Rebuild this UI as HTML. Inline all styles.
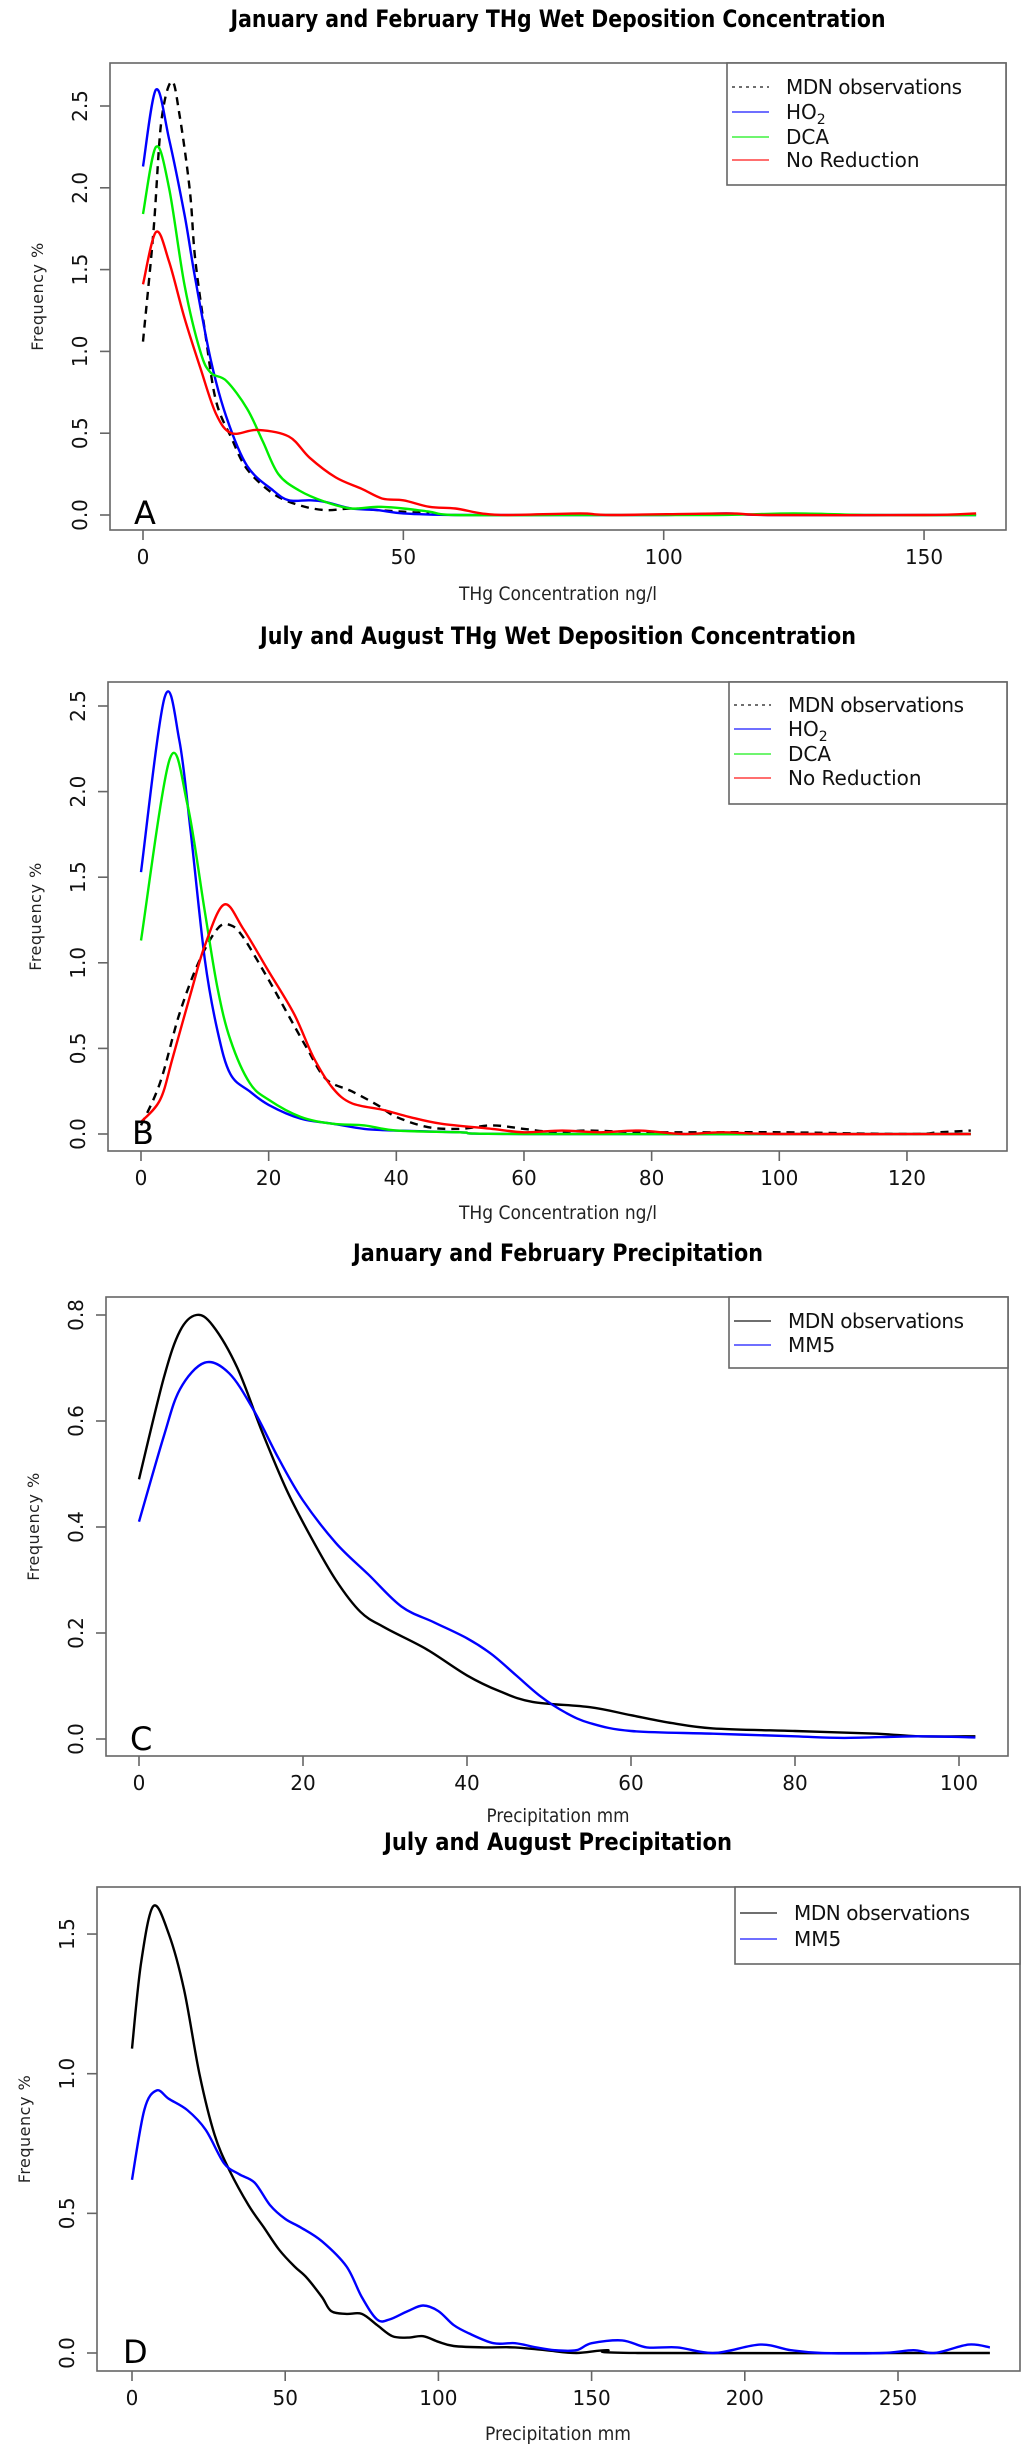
<!DOCTYPE html>
<html><head><meta charset="utf-8"><style>
html,body{margin:0;padding:0;background:#fff;}
svg{display:block;font-family:"DejaVu Sans","Liberation Sans",sans-serif;}
</style></head><body>
<svg id="fig" width="1024" height="2456" viewBox="0 0 1024 2456" xmlns="http://www.w3.org/2000/svg"></svg>
<script>
// ---- Panel A data (Jan/Feb THg) ----
const aMdnX=[0,2,3.5,5.5,7,9,10,12,14,17,20,25,30,35,40,45,50,55];
const aMdnY=[1.06,1.73,2.4,2.65,2.45,1.98,1.57,1.1,0.7,0.47,0.28,0.13,0.06,0.03,0.04,0.03,0.02,0.01];
const aHo2X=[0,2.5,5,8,10,13,16,20,25,28,32,35,40,45,50,60,80,100,112,120,160];
const aHo2Y=[2.13,2.6,2.3,1.83,1.45,0.95,0.6,0.3,0.15,0.09,0.09,0.08,0.04,0.03,0.01,0,0,0,0.01,0,0];
const aDcaX=[0,2.5,5,8,11,13,16,20,23,26,30,35,40,45,50,55,60,80,110,125,140,160];
const aDcaY=[1.84,2.25,2.0,1.4,1.0,0.87,0.82,0.65,0.45,0.25,0.15,0.08,0.04,0.05,0.04,0.02,0,0,0,0.01,0,0];
const aNoRX=[0,2.5,5,8,11,14,17,22,28,32,37,42,46,50,55,60,65,70,84,90,112,120,150,160];
const aNoRY=[1.41,1.73,1.55,1.2,0.9,0.62,0.5,0.52,0.48,0.35,0.23,0.16,0.1,0.09,0.05,0.04,0.01,0,0.01,0,0.01,0,0,0.01];
const aXTicks=[0,50,100,150];
const aYTicks=["0.0","0.5","1.0","1.5","2.0","2.5"];

// ---- Panel B data (Jul/Aug THg) ----
const bMdnX=[0,3,6,9,12,14,16,20,23,26,29,33,37,40,45,50,55,60,65,70,80,100,120,125,130];
const bMdnY=[0.05,0.3,0.7,1.0,1.2,1.22,1.15,0.9,0.7,0.5,0.32,0.25,0.17,0.1,0.04,0.03,0.05,0.03,0.01,0.02,0.01,0.01,0,0.01,0.02];
const bHo2X=[0,3.7,6,7.8,10,12,14,17,20,25,30,35,40,50,60,130];
const bHo2Y=[1.53,2.55,2.3,1.76,1.02,0.6,0.35,0.25,0.17,0.09,0.06,0.03,0.02,0.01,0,0];
const bDcaX=[0,4.5,7.3,10,12,14,17,20,25,30,35,40,50,60,130];
const bDcaY=[1.13,2.19,1.92,1.3,0.85,0.55,0.3,0.2,0.1,0.06,0.05,0.02,0.01,0,0];
const bNoRX=[0,3,5,8,10,13,16,20,24,27,30,33,38,42,47,55,60,66,72,78,85,91,100,130];
const bNoRY=[0.07,0.2,0.45,0.85,1.1,1.34,1.2,0.95,0.7,0.45,0.27,0.18,0.14,0.1,0.06,0.03,0.01,0.02,0.01,0.02,0,0.01,0,0];
const bXTicks=[0,20,40,60,80,100,120];
const bYTicks=["0.0","0.5","1.0","1.5","2.0","2.5"];

// ---- Panel C data (Jan/Feb precipitation) ----
const cMdnX=[0,3,5,7,9,12,15,18,21,24,27,30,35,40,44,48,55,60,65,70,80,90,95,102];
const cMdnY=[0.49,0.68,0.77,0.8,0.78,0.7,0.58,0.47,0.38,0.3,0.24,0.21,0.17,0.12,0.09,0.07,0.06,0.045,0.03,0.02,0.015,0.01,0.005,0.005];
const cMm5X=[0,3,5,8,11,14,17,20,24,28,32,36,40,43,46,49,52,55,60,70,80,86,95,102];
const cMm5Y=[0.41,0.57,0.66,0.71,0.69,0.62,0.53,0.45,0.37,0.31,0.25,0.22,0.19,0.16,0.12,0.08,0.05,0.03,0.015,0.01,0.005,0.002,0.005,0.003];
const cXTicks=[0,20,40,60,80,100];
const cYTicks=["0.0","0.2","0.4","0.6","0.8"];

// ---- Panel D data (Jul/Aug precipitation) ----
const dMdnX=[0,3,7,12,17,22,27,32,38,43,48,53,57,62,65,70,75,80,85,90,95,100,105,115,125,135,145,155,165,280];
const dMdnY=[1.09,1.4,1.6,1.5,1.3,1.0,0.78,0.65,0.53,0.45,0.37,0.31,0.27,0.2,0.15,0.14,0.14,0.1,0.06,0.055,0.06,0.04,0.025,0.02,0.02,0.01,0,0.01,0,0];
const dMm5X=[0,4,8,12,18,24,30,35,40,45,50,55,62,70,75,80,84,90,95,100,105,110,118,125,132,138,145,150,160,168,178,190,205,215,225,245,255,262,273,280];
const dMm5Y=[0.62,0.87,0.94,0.91,0.87,0.8,0.68,0.64,0.61,0.53,0.48,0.45,0.4,0.31,0.2,0.12,0.12,0.15,0.17,0.15,0.1,0.07,0.035,0.035,0.02,0.01,0.01,0.035,0.045,0.02,0.02,0,0.03,0.01,0,0,0.01,0,0.03,0.02];
const dXTicks=[0,50,100,150,200,250];
const dYTicks=["0.0","0.5","1.0","1.5"];

const NS="http://www.w3.org/2000/svg";
const svg=document.getElementById('fig');
function mk(tag,attrs,parent){const e=document.createElementNS(NS,tag);for(const k in attrs)e.setAttribute(k,attrs[k]);(parent||svg).appendChild(e);return e;}
function smoothPath(pts){
  let d="M"+pts[0][0].toFixed(1)+","+pts[0][1].toFixed(1);
  for(let i=0;i<pts.length-1;i++){
    const p0=pts[i-1]||pts[i],p1=pts[i],p2=pts[i+1],p3=pts[i+2]||p2;
    const c1=[p1[0]+(p2[0]-p0[0])/6,p1[1]+(p2[1]-p0[1])/6];
    const c2=[p2[0]-(p3[0]-p1[0])/6,p2[1]-(p3[1]-p1[1])/6];
    d+="C"+c1.map(v=>v.toFixed(1))+" "+c2.map(v=>v.toFixed(1))+" "+p2[0].toFixed(1)+","+p2[1].toFixed(1);
  }
  return d;
}
function panel(cfg){
  const g=mk('g',{});
  
  
  const sx=v=>cfg.x0+v*cfg.xpu, sy=v=>cfg.y0-v*cfg.ypu;
  const t=mk('text',{x:558,y:cfg.titleY,'text-anchor':'middle','font-size':24,'font-weight':'bold',textLength:cfg.titleW,lengthAdjust:'spacingAndGlyphs',fill:'#000'},g);
  t.textContent=cfg.title;
  
  
  const fr=mk('rect',{x:cfg.L,y:cfg.T,width:cfg.R-cfg.L,height:cfg.B-cfg.T,fill:'none',stroke:'#666','stroke-width':1.6},g);
  
  
  cfg.xt.forEach(v=>{
    const x=sx(v);
    mk('line',{x1:x,x2:x,y1:cfg.B,y2:cfg.B+10,stroke:'#666','stroke-width':1.6},g);
    const l=mk('text',{x:x,y:cfg.B+34,'text-anchor':'middle','font-size':20,fill:'#111'},g);
    l.textContent=String(v);
    
    
  });
  cfg.yt.forEach(s=>{
    const y=sy(parseFloat(s));
    mk('line',{x1:cfg.L-10,x2:cfg.L,y1:y,y2:y,stroke:'#666','stroke-width':1.6},g);
    const l=mk('text',{x:0,y:0,'text-anchor':'middle','font-size':20,fill:'#111',transform:`translate(${cfg.L-23},${y}) rotate(-90)`},g);
    l.textContent=s;
    
    
  });
  const xl=mk('text',{x:558,y:cfg.xlabY,'text-anchor':'middle','font-size':19,textLength:cfg.xlabW,lengthAdjust:'spacingAndGlyphs',fill:'#222'},g);
  xl.textContent=cfg.xlab;
  
  
  const yl=mk('text',{x:0,y:0,'text-anchor':'middle','font-size':16,fill:'#222','letter-spacing':'0.5',transform:`translate(${cfg.L-67},${(cfg.T+cfg.B)/2}) rotate(-90)`},g);
  yl.textContent="Frequency %";
  
  
  cfg.series.forEach(s=>{
    const pts=s.x.map((v,i)=>[sx(v),sy(s.y[i])]);
    const p=mk('path',{d:smoothPath(pts),fill:'none',stroke:s.color,'stroke-width':2.4,'stroke-linejoin':'round'},g);
    if(s.dash)p.setAttribute('stroke-dasharray','8,6');
    
    
  });
  const lt=mk('text',{x:cfg.x0-9,y:cfg.letterY,'font-size':32,fill:'#000'},g);
  lt.textContent=cfg.letter;
  
  
  const lg=mk('g',{},g);
  
  
  mk('rect',{x:cfg.legL,y:cfg.T,width:cfg.R-cfg.legL,height:cfg.legB-cfg.T,fill:'#fff',stroke:'#666','stroke-width':1.6},lg);
  cfg.series.forEach((s,i)=>{
    const y=cfg.legRows[i];
    const ln=mk('line',{x1:cfg.legL+5,x2:cfg.legL+42,y1:y,y2:y,stroke:s.color,'stroke-width':1.6,opacity:0.75},lg);
    if(s.dash)ln.setAttribute('stroke-dasharray','3,4');
    const tx=mk('text',{x:cfg.legL+59,y:y+7,'font-size':20,fill:'#111'},lg);
    if(s.label==='HO2'){tx.textContent='HO';const sub=mk('tspan',{'font-size':14,dy:5},tx);sub.textContent='2';}
    else tx.textContent=s.label;
    if(s.label==='MDN observations')tx.setAttribute('textLength',176);
    
    
  });
}
const K='#000',BL='#0000ff',GR='#00ee00',RD='#ff0000';
panel({name:'panel-a',title:'January and February THg Wet Deposition Concentration',titleY:27,titleW:655,
  L:110,R:1006,T:63,B:530,x0:143,xpu:5.207,y0:515,ypu:163.6,xt:aXTicks,yt:aYTicks,
  xlab:'THg Concentration ng/l',xlabY:600,xlabW:198,letter:'A',letterY:524,
  legL:727,legB:185,legRows:[87,112,137,160],
  series:[{name:'mdn-line',label:'MDN observations',x:aMdnX,y:aMdnY,color:K,dash:true},
          {name:'ho2-line',label:'HO2',x:aHo2X,y:aHo2Y,color:BL},
          {name:'dca-line',label:'DCA',x:aDcaX,y:aDcaY,color:GR},
          {name:'no-reduction-line',label:'No Reduction',x:aNoRX,y:aNoRY,color:RD}]});
panel({name:'panel-b',title:'July and August THg Wet Deposition Concentration',titleY:644,titleW:596,
  L:108,R:1007,T:682,B:1151,x0:141,xpu:6.383,y0:1134,ypu:171.2,xt:bXTicks,yt:bYTicks,
  xlab:'THg Concentration ng/l',xlabY:1219,xlabW:198,letter:'B',letterY:1144,
  legL:729,legB:804,legRows:[705,729,754,778],
  series:[{name:'mdn-line',label:'MDN observations',x:bMdnX,y:bMdnY,color:K,dash:true},
          {name:'ho2-line',label:'HO2',x:bHo2X,y:bHo2Y,color:BL},
          {name:'dca-line',label:'DCA',x:bDcaX,y:bDcaY,color:GR},
          {name:'no-reduction-line',label:'No Reduction',x:bNoRX,y:bNoRY,color:RD}]});
panel({name:'panel-c',title:'January and February Precipitation',titleY:1261,titleW:410,
  L:106,R:1008,T:1297,B:1756,x0:139,xpu:8.2,y0:1739,ypu:530,xt:cXTicks,yt:cYTicks,
  xlab:'Precipitation mm',xlabY:1822,xlabW:143,letter:'C',letterY:1750,
  legL:729,legB:1368,legRows:[1321,1345],
  series:[{name:'mdn-line',label:'MDN observations',x:cMdnX,y:cMdnY,color:K},
          {name:'mm5-line',label:'MM5',x:cMm5X,y:cMm5Y,color:BL}]});
panel({name:'panel-d',title:'July and August Precipitation',titleY:1850,titleW:348,
  L:97,R:1020,T:1887,B:2371,x0:132,xpu:3.064,y0:2353,ypu:279.3,xt:dXTicks,yt:dYTicks,
  xlab:'Precipitation mm',xlabY:2440,xlabW:146,letter:'D',letterY:2363,
  legL:735,legB:1964,legRows:[1913,1939],
  series:[{name:'mdn-line',label:'MDN observations',x:dMdnX,y:dMdnY,color:K},
          {name:'mm5-line',label:'MM5',x:dMm5X,y:dMm5Y,color:BL}]});
</script>
</body></html>
